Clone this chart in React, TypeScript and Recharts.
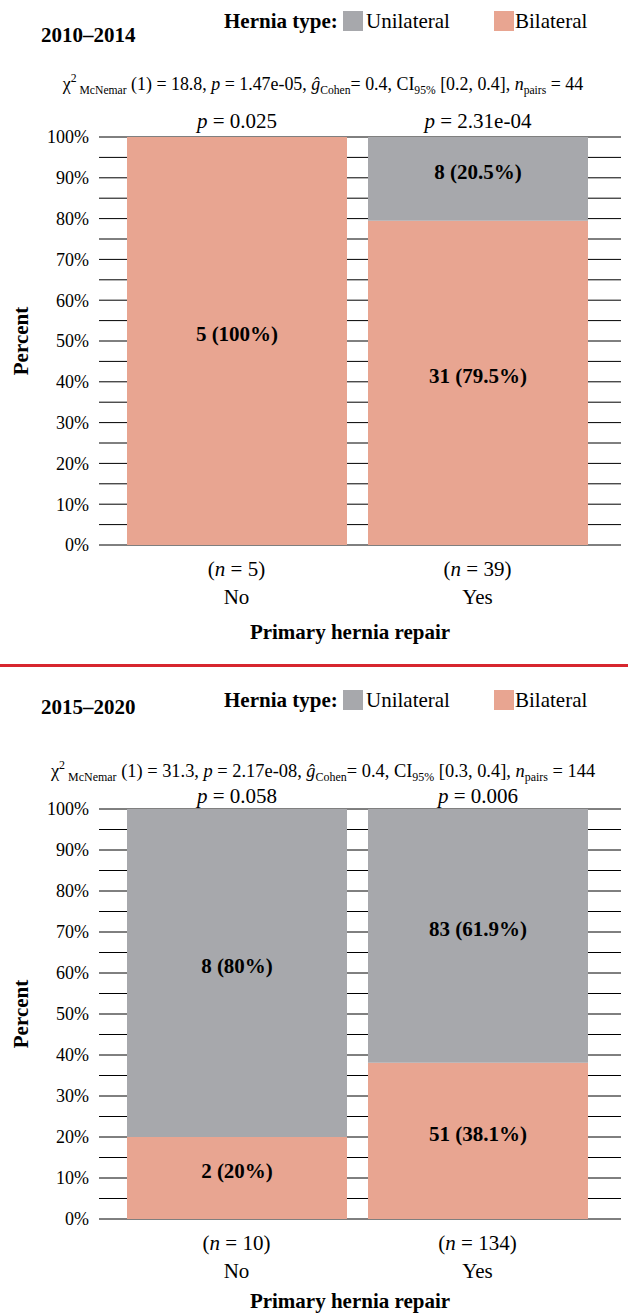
import React from 'react';
import { BarChart, Bar, XAxis, YAxis, CartesianGrid, LabelList, Label } from 'recharts';

const FONT = "'Liberation Serif', 'Times New Roman', Times, serif";
const UNI = '#A7A8AC';
const BIL = '#E8A591';

const categories = ['No', 'Yes'];
const yTicks = [0, 10, 20, 30, 40, 50, 60, 70, 80, 90, 100];
const gridValues = [0, 5, 10, 15, 20, 25, 30, 35, 40, 45, 50, 55, 60, 65, 70, 75, 80, 85, 90, 95, 100];

// Panel 1: 2010–2014
const n1 = [5, 39];
const uniCount1 = [0, 8];
const bilCount1 = [5, 31];
const uniPct1 = [0, 20.5];
const bilPct1 = [100, 79.5];
const pVal1 = ['0.025', '2.31e-04'];

// Panel 2: 2015–2020
const n2 = [10, 134];
const uniCount2 = [8, 83];
const bilCount2 = [2, 51];
const uniPct2 = [80, 61.9];
const bilPct2 = [20, 38.1];
const pVal2 = ['0.058', '0.006'];

type Row = {
  cat: string; n: number; uni: number; bil: number; total: number;
  uniLabel: string; bilLabel: string; p: string;
};

function makeRows(n: number[], uc: number[], bc: number[], up: number[], bp: number[], p: string[]): Row[] {
  return categories.map((c, i) => ({
    cat: c,
    n: n[i],
    uni: up[i],
    bil: bp[i],
    total: up[i] + bp[i],
    uniLabel: uc[i] > 0 ? `${uc[i]} (${up[i]}%)` : '',
    bilLabel: bc[i] > 0 ? `${bc[i]} (${bp[i]}%)` : '',
    p: p[i],
  }));
}

const rows1 = makeRows(n1, uniCount1, bilCount1, uniPct1, bilPct1, pVal1);
const rows2 = makeRows(n2, uniCount2, bilCount2, uniPct2, bilPct2, pVal2);

function Panel({ rows, top, height, marginBottom, pGap, titleGap }: { rows: Row[]; top: number; height: number; marginBottom: number; pGap: number; titleGap: number }) {
  const renderXTick = (props: any) => {
    const { x, y, payload } = props;
    const row = rows.find((r) => r.cat === payload.value) || rows[0];
    return (
      <g>
        <text x={x} y={y + 24} textAnchor="middle" dominantBaseline="central" fontSize={21} fontFamily={FONT} fill="#000">
          {'('}<tspan fontStyle="italic">n</tspan>{` = ${row.n})`}
        </text>
        <text x={x} y={y + 52} textAnchor="middle" dominantBaseline="central" fontSize={21} fontFamily={FONT} fill="#000">
          {row.cat}
        </text>
      </g>
    );
  };
  const renderP = (props: any) => {
    const { x, y, width, value } = props;
    return (
      <text x={Number(x) + Number(width) / 2} y={Number(y) - pGap} textAnchor="middle" fontSize={21} fontFamily={FONT} fill="#000">
        <tspan fontStyle="italic">p</tspan>{` = ${value}`}
      </text>
    );
  };
  const renderXTitle = (props: any) => {
    const vb = props.viewBox || {};
    return (
      <text x={vb.x + vb.width / 2 - 10} y={vb.y + titleGap} textAnchor="middle" dominantBaseline="central" fontSize={21} fontWeight="bold" fontFamily={FONT} fill="#000">
        Primary hernia repair
      </text>
    );
  };
  const renderYTitle = (props: any) => {
    const vb = props.viewBox || {};
    const cy = vb.y + vb.height / 2;
    return (
      <text transform={`translate(28, ${cy}) rotate(-90)`} textAnchor="middle" fontSize={21} fontWeight="bold" fontFamily={FONT} fill="#000">
        Percent
      </text>
    );
  };
  const renderSegLabel = (props: any) => {
    const { x, y, width, height: h, value } = props;
    if (!value) return null;
    return (
      <text x={Number(x) + Number(width) / 2} y={Number(y) + Number(h) / 2 - 7} textAnchor="middle" dominantBaseline="central" fontSize={21} fontWeight="bold" fontFamily={FONT} fill="#000">
        {value}
      </text>
    );
  };
  return (
    <div style={{ position: 'absolute', left: 0, top, width: 628, height }}>
      <BarChart width={628} height={height} data={rows} margin={{ top: 137, right: 7, bottom: marginBottom, left: 0 }}>
        <CartesianGrid vertical={false} yAxisId="grid" stroke="#000" strokeWidth={1} />
        <XAxis
          dataKey="cat"
          axisLine={false}
          tickLine={false}
          tickSize={0}
          tickMargin={0}
          height={60}
          padding={{ left: 17, right: 23 }}
          tick={renderXTick}
          interval={0}
        >
          <Label content={renderXTitle} />
        </XAxis>
        <XAxis xAxisId="top" dataKey="cat" hide padding={{ left: 17, right: 23 }} />
        <YAxis
          type="number"
          domain={[0, 100]}
          ticks={yTicks}
          tickFormatter={(v: number) => `${v}%`}
          width={99}
          axisLine={false}
          tickLine={false}
          tickSize={0}
          tickMargin={10}
          tick={{ fontSize: 18, fontFamily: FONT, fill: '#000' }}
          allowDataOverflow
          interval={0}
        >
          <Label content={renderYTitle} />
        </YAxis>
        <YAxis yAxisId="grid" type="number" domain={[0, 100]} ticks={gridValues} hide interval={0} allowDataOverflow />
        <Bar dataKey="bil" stackId="a" fill={BIL} barSize={220} isAnimationActive={false}>
          <LabelList dataKey="bilLabel" content={renderSegLabel} />
        </Bar>
        <Bar dataKey="uni" stackId="a" fill={UNI} barSize={220} isAnimationActive={false}>
          <LabelList dataKey="uniLabel" content={renderSegLabel} />
        </Bar>
        <Bar dataKey="total" xAxisId="top" fill="none" fillOpacity={0} barSize={220} isAnimationActive={false}>
          <LabelList dataKey="p" content={renderP} />
        </Bar>
      </BarChart>
    </div>
  );
}

function Header({ title, titleY, legendY, subY, subSize, chi, p, gLo, gHi, npairs }: { title: string; titleY: number; legendY: number; subY: number; subSize: number; chi: string; p: string; gLo: string; gHi: string; npairs: number }) {
  const s = subSize * 0.65;
  return (
    <g fontFamily={FONT} fill="#000">
      <text x={41} y={titleY} fontSize={21} fontWeight="bold">{title}</text>
      <text x={224} y={legendY} fontSize={21} fontWeight="bold">Hernia type:</text>
      <rect x={343} y={legendY - 17} width={20} height={20} fill={UNI} />
      <text x={366} y={legendY} fontSize={21}>Unilateral</text>
      <rect x={494} y={legendY - 17} width={20} height={20} fill={BIL} />
      <text x={515} y={legendY} fontSize={21}>Bilateral</text>
      <text x={323} y={subY} fontSize={subSize} textAnchor="middle">
        <tspan>χ</tspan>
        <tspan fontSize={s} dy={-8}>2</tspan>
        <tspan fontSize={s} dy={12}>{' McNemar'}</tspan>
        <tspan dy={-4}>{` (1) = ${chi}, `}</tspan>
        <tspan fontStyle="italic">p</tspan>
        <tspan>{` = ${p}, `}</tspan>
        <tspan fontStyle="italic">ĝ</tspan>
        <tspan fontSize={s} dy={4}>Cohen</tspan>
        <tspan dy={-4}>= 0.4, CI</tspan>
        <tspan fontSize={s} dy={4}>95%</tspan>
        <tspan dy={-4}>{` [${gLo}, ${gHi}], `}</tspan>
        <tspan fontStyle="italic">n</tspan>
        <tspan fontSize={s} dy={4}>pairs</tspan>
        <tspan dy={-4}>{` = ${npairs}`}</tspan>
      </text>
    </g>
  );
}

export default function App() {
  return (
    <div style={{ position: 'absolute', left: 0, top: 0, width: 628, height: 1316, background: '#fff', overflow: 'hidden' }}>
      <Panel rows={rows1} top={0} height={660} marginBottom={55} pGap={9} titleGap={87} />
      <Panel rows={rows2} top={672} height={644} marginBottom={37} pGap={6} titleGap={82} />
      <svg width={628} height={1316} style={{ position: 'absolute', left: 0, top: 0, pointerEvents: 'none' }}>
        <Header title="2010–2014" titleY={42} legendY={28} subY={90} subSize={17.9} chi="18.8" p="1.47e-05" gLo="0.2" gHi="0.4" npairs={44} />
        <rect x={0} y={664} width={628} height={3} fill="#D7262E" />
        <Header title="2015–2020" titleY={714} legendY={707} subY={777} subSize={18.4} chi="31.3" p="2.17e-08" gLo="0.3" gHi="0.4" npairs={144} />
      </svg>
    </div>
  );
}
